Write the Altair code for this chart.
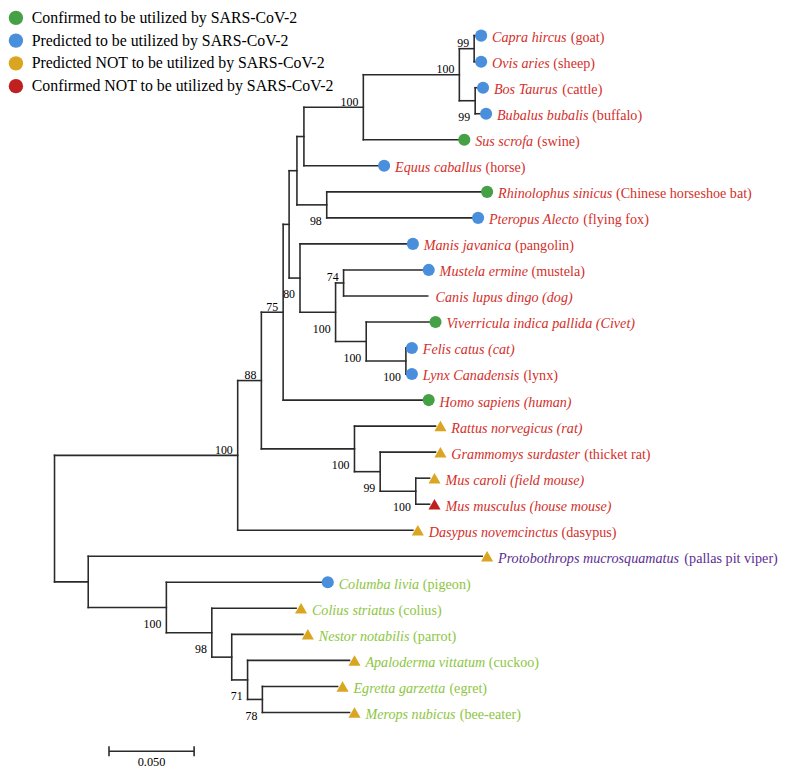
import altair as alt
import pandas as pd

# ---------------- data ----------------
leaf_species = ["Capra hircus", "Ovis aries", "Bos Taurus", "Bubalus bubalis", "Sus scrofa",
                "Equus caballus", "Rhinolophus sinicus", "Pteropus Alecto", "Manis javanica",
                "Mustela ermine", "Canis lupus dingo", "Viverricula indica pallida", "Felis catus",
                "Lynx Canadensis", "Homo sapiens", "Rattus norvegicus", "Grammomys surdaster",
                "Mus caroli", "Mus musculus", "Dasypus novemcinctus", "Protobothrops mucrosquamatus",
                "Columba livia", "Colius striatus", "Nestor notabilis", "Apaloderma vittatum",
                "Egretta garzetta", "Merops nubicus"]
leaf_common = ["(goat)", "(sheep)", "(cattle)", "(buffalo)", "(swine)", "(horse)",
               "(Chinese horseshoe bat)", "(flying fox)", "(pangolin)", "(mustela)", "(dog)",
               "(Civet)", "(cat)", "(lynx)", "(human)", "(rat)", "(thicket rat)", "(field mouse)",
               "(house mouse)", "(dasypus)", "(pallas pit viper)", "(pigeon)", "(colius)",
               "(parrot)", "(cuckoo)", "(egret)", "(bee-eater)"]
leaf_common_italic = [False] * 10 + [True, True, True, False, True, True, False, True, True] + [False] * 8
leaf_class = ["Mammalia"] * 20 + ["Reptilia"] + ["Aves"] * 6

C = "Confirmed to be utilized by SARS-CoV-2"
P = "Predicted to be utilized by SARS-CoV-2"
PN = "Predicted NOT to be utilized by SARS-CoV-2"
CN = "Confirmed NOT to be utilized by SARS-CoV-2"
status_order = [C, P, PN, CN]
status_colors = ["#46a046", "#4a8fdb", "#daa520", "#c0201f"]
status_shapes = ["circle", "circle", "triangle-up", "triangle-up"]
status_sizes = [150, 150, 250, 250]

leaf_status = [P, P, P, P, C, P, C, P, P, P, None, C, P, P, C, PN, PN, PN, CN, PN, PN,
               P, PN, PN, PN, PN, PN]
leaf_parent = ["goat_sheep", "goat_sheep", "cattle_buffalo", "cattle_buffalo", "cetartio", "n307",
               "bats", "bats", "ferae", "n74", "n74", "viv_cat", "felis_lynx", "felis_lynx", "n75",
               "rodents", "n99", "mus", "mus", "mammals", "br", "birds", "n98", "n2", "n71", "n78", "n78"]
leaf_depth = [0.2477, 0.2477, 0.2488, 0.2506, 0.2378, 0.1907, 0.2512, 0.2459, 0.2076, 0.2169,
              0.2192, 0.2209, 0.2070, 0.2070, 0.2169, 0.2238, 0.2238, 0.2203, 0.2203, 0.2105,
              0.2512, 0.1576, 0.1419, 0.1459, 0.1733, 0.1663, 0.1733]

internal_names = ["root", "mammals", "n88", "n75", "n80", "n300", "n307", "cetartio", "bovid",
                  "goat_sheep", "cattle_buffalo", "bats", "ferae", "carnivora", "n74", "viv_cat",
                  "felis_lynx", "rodents", "n99", "mus", "br", "birds", "n98", "n2", "n71", "n78"]
internal_parent = [None, "root", "mammals", "n88", "n75", "n80", "n300", "n307", "cetartio", "bovid",
                   "bovid", "n300", "n80", "ferae", "carnivora", "carnivora", "viv_cat", "n88",
                   "rodents", "n99", "root", "br", "birds", "n98", "n2", "n71"]
internal_depth = [0.0, 0.1076, 0.1215, 0.1343, 0.1378, 0.1424, 0.1465, 0.1814, 0.2378, 0.2465,
                  0.2471, 0.1599, 0.1442, 0.1651, 0.1698, 0.1831, 0.2064, 0.1762, 0.1913, 0.2122,
                  0.0198, 0.0657, 0.0924, 0.1041, 0.1134, 0.1221]
internal_support = [None, 100, 88, 75, None, None, None, 100, 100, 99, 99, 98, 80, 100, 74, 100,
                    100, 100, 99, 100, None, 100, 98, None, 71, 78]

scale_bar_start = 0.032
scale_bar_length = 0.05
scale_bar_label = "0.050"

class_order = ["Mammalia", "Reptilia", "Aves"]
class_colors = ["#d3302b", "#5c2d91", "#8dc63f"]

# ---------------- layout helpers ----------------
W, H = 781, 762
X_MIN = -0.027326
PXU = 1720.0                      # pixels per distance unit
X_MAX = X_MIN + W / PXU
Y_MIN = -24 / 26.3
Y_MAX = Y_MIN + H / 26.3
FONT = "Liberation Serif, Times New Roman, Times, serif"
LEAF_FS = 14.3

ITALIC_W = {" ": 250, "(": 333, ")": 333, "-": 333,
            "A": 611, "B": 611, "C": 667, "D": 722, "E": 611, "F": 611, "G": 722, "H": 722,
            "I": 333, "J": 444, "K": 667, "L": 556, "M": 833, "N": 667, "O": 722, "P": 611,
            "Q": 722, "R": 611, "S": 500, "T": 556, "U": 722, "V": 611, "W": 833, "X": 611,
            "Y": 556, "Z": 556, "a": 500, "b": 500, "c": 444, "d": 500, "e": 444, "f": 278,
            "g": 500, "h": 500, "i": 278, "j": 278, "k": 444, "l": 278, "m": 722, "n": 500,
            "o": 500, "p": 500, "q": 500, "r": 389, "s": 389, "t": 278, "u": 500, "v": 444,
            "w": 667, "x": 444, "y": 444, "z": 389}


def italic_width(s, size):
    return sum(ITALIC_W.get(ch, 500) for ch in s) * size / 1000.0


# node tables
depth = {n: d for n, d in zip(internal_names, internal_depth)}
parent = {n: p for n, p in zip(internal_names, internal_parent)}
children = {n: [] for n in internal_names}
ypos = {}
for i, (sp, par, d) in enumerate(zip(leaf_species, leaf_parent, leaf_depth)):
    depth[sp] = d
    parent[sp] = par
    ypos[sp] = float(i)
for n, p in zip(internal_names, internal_parent):
    if p is not None:
        children[p].append(n)
for sp, par in zip(leaf_species, leaf_parent):
    children[par].append(sp)


def get_y(n):
    if n in ypos:
        return ypos[n]
    ys = [get_y(c) for c in children[n]]
    ypos[n] = (min(ys) + max(ys)) / 2.0
    return ypos[n]


for n in internal_names:
    get_y(n)

seg_rows = []
for n in list(internal_names) + list(leaf_species):
    p = parent[n]
    if p is not None:
        seg_rows.append({"x": depth[p], "x2": depth[n], "y": ypos[n], "y2": ypos[n]})
for n in internal_names:
    ys = [ypos[c] for c in children[n]]
    seg_rows.append({"x": depth[n], "x2": depth[n], "y": min(ys), "y2": max(ys)})
seg_df = pd.DataFrame(seg_rows)

pt_df = pd.DataFrame([{"x": d, "y": float(i), "status": s}
                      for i, (d, s) in enumerate(zip(leaf_depth, leaf_status)) if s is not None])

ital_rows, rom_rows = [], []
for i, (sp, cm, ci, cl, d, s) in enumerate(zip(leaf_species, leaf_common, leaf_common_italic,
                                                 leaf_class, leaf_depth, leaf_status)):
    gap = 16 if s is not None else 8
    lx = d + gap / PXU
    if ci:
        ital_rows.append({"x": lx, "y": float(i), "t": sp + " " + cm, "cls": cl})
    else:
        ital_rows.append({"x": lx, "y": float(i), "t": sp, "cls": cl})
        rx = lx + italic_width(sp + " ", LEAF_FS) / PXU
        rom_rows.append({"x": rx, "y": float(i), "t": cm, "cls": cl})
ital_df = pd.DataFrame(ital_rows)
rom_df = pd.DataFrame(rom_rows)

above_rows, below_rows = [], []
for n, sup in zip(internal_names, internal_support):
    if sup is None:
        continue
    row = {"x": depth[n], "y": ypos[n], "t": str(sup)}
    if ypos[n] < ypos[parent[n]]:
        above_rows.append(row)
    else:
        below_rows.append(row)
above_df = pd.DataFrame(above_rows)
below_df = pd.DataFrame(below_rows)

sb_df = pd.DataFrame([{"x": scale_bar_start, "x2": scale_bar_start + scale_bar_length,
                       "xm": scale_bar_start + scale_bar_length / 2, "t": scale_bar_label}])

# ---------------- encodings ----------------
xs = alt.Scale(domain=[X_MIN, X_MAX], nice=False, zero=False)
ys = alt.Scale(domain=[Y_MIN, Y_MAX], nice=False, zero=False, reverse=True)


def X(f):
    return alt.X(f, type="quantitative", scale=xs, axis=None)


def Y(f):
    return alt.Y(f, type="quantitative", scale=ys, axis=None)


LINE = "#2a2a2a"

branches = alt.Chart(seg_df).mark_rule(color=LINE, strokeWidth=1.6, strokeCap="square").encode(
    x=X("x"), x2="x2", y=Y("y"), y2="y2")

leg = alt.Legend(title=None, orient="none", legendX=0, legendY=-2, padding=0,
                 labelFont=FONT, labelFontSize=16, labelColor="black", labelLimit=600,
                 labelOffset=8, symbolSize=210, rowPadding=7, symbolStrokeWidth=0,
                 symbolOpacity=1)

points = alt.Chart(pt_df).mark_point(filled=True, opacity=1, xOffset=5).encode(
    x=X("x"), y=Y("y"),
    color=alt.Color("status:N", scale=alt.Scale(domain=status_order, range=status_colors), legend=leg),
    shape=alt.Shape("status:N", scale=alt.Scale(domain=status_order, range=status_shapes), legend=leg),
    size=alt.Size("status:N", scale=alt.Scale(domain=status_order, range=status_sizes), legend=None))

cls_color = alt.Color("cls:N", scale=alt.Scale(domain=class_order, range=class_colors), legend=None)

ital_text = alt.Chart(ital_df).mark_text(font=FONT, fontSize=LEAF_FS, fontStyle="italic",
                                         align="left", baseline="alphabetic", dy=6.5).encode(
    x=X("x"), y=Y("y"), text="t:N", color=cls_color)
rom_text = alt.Chart(rom_df).mark_text(font=FONT, fontSize=LEAF_FS, align="left",
                                       baseline="alphabetic", dy=6.5).encode(
    x=X("x"), y=Y("y"), text="t:N", color=cls_color)
labels = alt.layer(ital_text, rom_text)

sup_above = alt.Chart(above_df).mark_text(font=FONT, fontSize=12, color="black", align="right",
                                          baseline="alphabetic", dx=-5, dy=-1.5).encode(
    x=X("x"), y=Y("y"), text="t:N")
sup_below = alt.Chart(below_df).mark_text(font=FONT, fontSize=12, color="black", align="right",
                                          baseline="alphabetic", dx=-5, dy=20.5).encode(
    x=X("x"), y=Y("y"), text="t:N")

sb_line = alt.Chart(sb_df).mark_rule(color=LINE, strokeWidth=1.6).encode(
    x=X("x"), x2="x2", y=alt.value(747))
sb_tick1 = alt.Chart(sb_df).mark_rule(color=LINE, strokeWidth=1.6).encode(
    x=X("x"), y=alt.value(742), y2=alt.value(752))
sb_tick2 = alt.Chart(sb_df).mark_rule(color=LINE, strokeWidth=1.6).encode(
    x=X("x2"), y=alt.value(742), y2=alt.value(752))
sb_text = alt.Chart(sb_df).mark_text(font=FONT, fontSize=12.5, color="black", align="center",
                                     baseline="alphabetic").encode(
    x=X("xm"), y=alt.value(761.5), text="t:N")

chart = alt.layer(branches, sb_line, sb_tick1, sb_tick2, points, labels,
                  sup_above, sup_below, sb_text).resolve_scale(color="independent").properties(
    width=W, height=H, autosize="none", padding=0
).configure(font=FONT, view=alt.ViewConfig(strokeWidth=0))

chart.save("out.html", embed_options={"renderer": "svg", "actions": False})
